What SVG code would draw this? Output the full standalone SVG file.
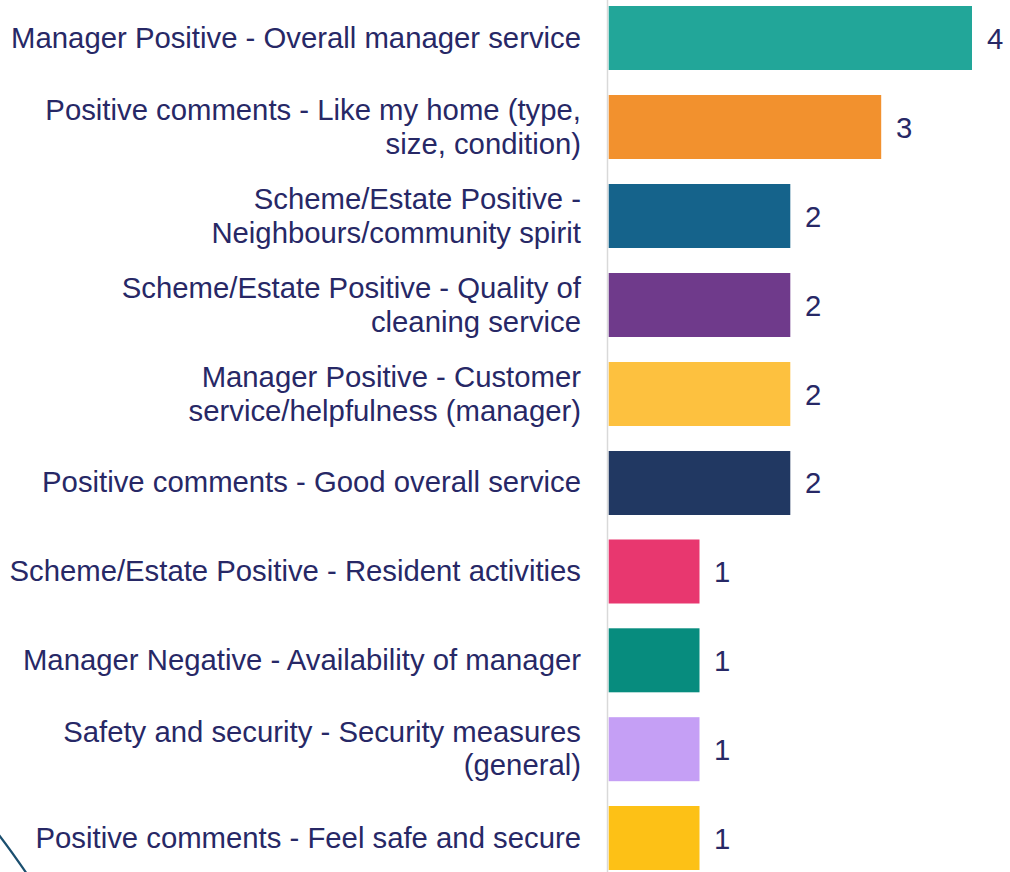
<svg xmlns="http://www.w3.org/2000/svg" width="1010" height="872" viewBox="0 0 1010 872">
<style>
.lbl{font-family:"Liberation Sans",Arial,sans-serif;font-size:29.3px;fill:#272866;text-anchor:end}
.val{font-family:"Liberation Sans",Arial,sans-serif;font-size:29.3px;fill:#272866}
</style>
<rect width="1010" height="872" fill="#ffffff"/>
<path d="M -1 835 Q 12 852 27 874" fill="none" stroke="#1b4f6f" stroke-width="2.2"/>
<g id="axis"><line x1="607.5" y1="0" x2="607.5" y2="872" stroke="#d9d9d9" stroke-width="1.5"/></g>
<g id="bar1"><rect x="608.7" y="6" width="363.3" height="64" fill="#22a699"/><text class="lbl" x="581" y="48.3">Manager Positive - Overall manager service</text><text class="val" x="987" y="49">4</text></g>
<g id="bar2"><rect x="608.7" y="95" width="272.5" height="64" fill="#f2912e"/><text class="lbl" x="581" y="120">Positive comments - Like my home (type,</text><text class="lbl" x="581" y="153.5">size, condition)</text><text class="val" x="896" y="138">3</text></g>
<g id="bar3"><rect x="608.7" y="184" width="181.6" height="64" fill="#15638b"/><text class="lbl" x="581" y="209">Scheme/Estate Positive -</text><text class="lbl" x="581" y="242.5">Neighbours/community spirit</text><text class="val" x="805" y="227">2</text></g>
<g id="bar4"><rect x="608.7" y="273" width="181.6" height="64" fill="#6f3a8b"/><text class="lbl" x="581" y="298">Scheme/Estate Positive - Quality of</text><text class="lbl" x="581" y="331.5">cleaning service</text><text class="val" x="805" y="316">2</text></g>
<g id="bar5"><rect x="608.7" y="362" width="181.6" height="64" fill="#fdc13f"/><text class="lbl" x="581" y="387">Manager Positive - Customer</text><text class="lbl" x="581" y="420.5">service/helpfulness (manager)</text><text class="val" x="805" y="405">2</text></g>
<g id="bar6"><rect x="608.7" y="451" width="181.6" height="64" fill="#213862"/><text class="lbl" x="581" y="492">Positive comments - Good overall service</text><text class="val" x="805" y="493">2</text></g>
<g id="bar7"><rect x="608.7" y="539.5" width="90.8" height="64" fill="#e8376f"/><text class="lbl" x="581" y="580.5">Scheme/Estate Positive - Resident activities</text><text class="val" x="714" y="582">1</text></g>
<g id="bar8"><rect x="608.7" y="628.3" width="90.8" height="64" fill="#078c7e"/><text class="lbl" x="581" y="669.5">Manager Negative - Availability of manager</text><text class="val" x="714" y="671">1</text></g>
<g id="bar9"><rect x="608.7" y="717.2" width="90.8" height="64" fill="#c59ff5"/><text class="lbl" x="581" y="741.5">Safety and security - Security measures</text><text class="lbl" x="581" y="775">(general)</text><text class="val" x="714" y="760">1</text></g>
<g id="bar10"><rect x="608.7" y="806" width="90.8" height="64" fill="#fdc116"/><text class="lbl" x="581" y="847.5">Positive comments - Feel safe and secure</text><text class="val" x="714" y="848.5">1</text></g>
<g id="connectors"/>
</svg>
